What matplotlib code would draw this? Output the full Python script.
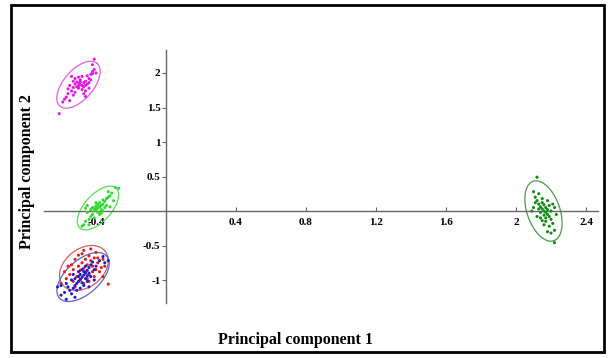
import numpy as np
import matplotlib
matplotlib.use("Agg")
import matplotlib.pyplot as plt
from matplotlib.patches import Rectangle

# ---------------- data ----------------
magenta_x = [-0.49, -0.50, -0.48, -0.51, -0.47, -0.52, -0.46, -0.50, -0.49, -0.53, -0.45, -0.48,
             -0.44, -0.54, -0.51, -0.47, -0.43, -0.42, -0.45, -0.56, -0.57, -0.55, -0.52, -0.46,
             -0.44, -0.41, -0.40, -0.53, -0.55, -0.50, -0.48, -0.58, -0.47, -0.43, -0.52, -0.49,
             -0.50, -0.46, -0.61, -0.41, -0.54, -0.44, -0.59, -0.56, -0.42, -0.42, -0.46, -0.53]
magenta_y = [1.83, 1.85, 1.82, 1.80, 1.86, 1.84, 1.88, 1.78, 1.90, 1.79, 1.84, 1.76,
             1.92, 1.74, 1.87, 1.80, 1.98, 2.02, 1.96, 1.70, 1.65, 1.60, 1.72, 1.74,
             1.86, 2.05, 2.00, 1.88, 1.82, 1.94, 1.95, 1.62, 1.70, 1.90, 1.92, 1.87,
             1.81, 1.82, 1.41, 2.20, 1.95, 1.78, 1.58, 1.77, 2.12, 1.99, 1.66, 1.68]

lgreen_x = [-0.39, -0.38, -0.40, -0.37, -0.41, -0.36, -0.39, -0.35, -0.42, -0.38, -0.40, -0.37,
            -0.34, -0.33, -0.43, -0.44, -0.46, -0.45, -0.41, -0.36, -0.35, -0.32, -0.31, -0.29,
            -0.27, -0.30, -0.42, -0.47, -0.48, -0.44, -0.38, -0.40, -0.36, -0.43, -0.39, -0.37,
            -0.34, -0.41, -0.46, -0.33, -0.45, -0.32]
lgreen_y = [0.04, 0.06, 0.02, 0.08, 0.00, 0.10, -0.02, 0.14, -0.05, 0.12, 0.07, 0.02,
            0.18, 0.20, -0.08, -0.12, -0.15, -0.02, -0.10, 0.00, 0.05, 0.22, 0.26, 0.34,
            0.33, 0.15, 0.05, -0.20, -0.22, -0.20, -0.05, 0.12, 0.16, 0.02, 0.09, -0.03,
            0.08, 0.04, 0.04, 0.28, 0.08, 0.06]

red_x = [-0.47, -0.45, -0.49, -0.43, -0.41, -0.40, -0.43, -0.47, -0.50, -0.52, -0.39, -0.37,
         -0.35, -0.33, -0.36, -0.42, -0.44, -0.46, -0.48, -0.53, -0.55, -0.57, -0.60, -0.58,
         -0.54, -0.51, -0.49, -0.45, -0.41, -0.38, -0.44, -0.42, -0.50, -0.46, -0.53, -0.56,
         -0.39, -0.36, -0.48, -0.52, -0.47, -0.40, -0.44]
red_y = [-0.83, -0.78, -0.86, -0.72, -0.68, -0.60, -0.55, -0.57, -0.64, -0.70, -0.75, -0.82,
         -0.80, -1.06, -0.95, -0.88, -0.92, -0.70, -0.75, -0.85, -0.92, -0.98, -1.05, -0.88,
         -0.78, -0.95, -1.00, -0.98, -0.95, -0.88, -0.65, -0.80, -0.80, -0.88, -1.02, -0.80,
         -0.68, -0.70, -0.62, -1.10, -1.05, -0.85, -1.02]

blue_x = [-0.48, -0.47, -0.49, -0.46, -0.50, -0.45, -0.51, -0.44, -0.52, -0.47, -0.49, -0.46,
          -0.50, -0.43, -0.42, -0.44, -0.48, -0.53, -0.55, -0.56, -0.58, -0.60, -0.57, -0.54,
          -0.52, -0.54, -0.57, -0.60, -0.62, -0.45, -0.41, -0.40, -0.38, -0.36, -0.35, -0.33,
          -0.43, -0.47, -0.51, -0.49, -0.46, -0.48, -0.53, -0.41, -0.44, -0.50, -0.45, -0.52]
blue_y = [-0.96, -0.93, -0.99, -0.90, -1.02, -0.86, -1.05, -0.82, -1.08, -0.88, -0.92, -0.98,
          -0.95, -0.78, -0.74, -0.90, -1.04, -1.12, -1.15, -1.10, -1.18, -1.22, -1.28, -1.20,
          -0.98, -1.00, -1.05, -1.08, -1.10, -1.02, -0.85, -0.80, -0.72, -0.66, -0.75, -0.72,
          -0.95, -1.08, -1.15, -1.12, -0.80, -0.85, -0.92, -1.00, -1.10, -0.88, -0.94, -1.25]

dgreen_x = [2.16, 2.15, 2.17, 2.14, 2.18, 2.13, 2.19, 2.15, 2.17, 2.16, 2.14, 2.18,
            2.20, 2.12, 2.11, 2.10, 2.13, 2.15, 2.20, 2.21, 2.19, 2.17, 2.22, 2.18,
            2.20, 2.14, 2.12, 2.10, 2.09, 2.22, 2.23, 2.13, 2.16, 2.19, 2.17, 2.15,
            2.12, 2.22, 2.21, 2.11, 2.18, 2.16]
dgreen_y = [0.00, 0.03, -0.02, 0.06, -0.05, 0.10, -0.08, 0.12, 0.05, -0.06, -0.02, 0.02,
            0.00, 0.15, 0.20, 0.28, 0.25, 0.18, -0.12, -0.18, -0.22, -0.15, -0.28, -0.30,
            -0.32, -0.10, -0.08, 0.05, 0.00, 0.05, -0.05, 0.03, 0.09, 0.08, -0.10, -0.14,
            0.49, -0.46, 0.10, 0.12, 0.15, -0.20]

# ellipses: centre, major half-axis vector, minor half-axis vector (data units)
ell_magenta = [(-0.50, 1.83), (0.106, 0.31), (0.064, -0.140)]
ell_lgreen = [(-0.389, 0.043), (0.103, 0.29), (0.057, -0.130)]
ell_red = [(-0.469, -0.826), (0.118, 0.253), (0.074, -0.205)]
ell_blue = [(-0.474, -0.957), (0.135, 0.305), (0.064, -0.182)]
ell_dgreen = [(2.157, 0.0), (0.06, -0.43), (0.088, 0.082)]

x_ticks = [-0.4, 0.4, 0.8, 1.2, 1.6, 2.0, 2.4]
x_ticklabels = ["-0.4", "0.4", "0.8", "1.2", "1.6", "2", "2.4"]
y_ticks = [-1.0, -0.5, 0.5, 1.0, 1.5, 2.0]
y_ticklabels = ["-1", "-0.5", "0.5", "1", "1.5", "2"]

groups = [
    (magenta_x, magenta_y, ell_magenta, "#e21be2", "#e060e0"),
    (lgreen_x, lgreen_y, ell_lgreen, "#33d933", "#55dd55"),
    (red_x, red_y, ell_red, "#dd1f1f", "#d06060"),
    (blue_x, blue_y, ell_blue, "#1f1fc8", "#6060c8"),
    (dgreen_x, dgreen_y, ell_dgreen, "#148a14", "#4a9a4a"),
]

# ---------------- figure ----------------
W, H = 611, 358
fig = plt.figure(figsize=(W / 100, H / 100), dpi=100)
fig.patch.set_facecolor("white")
fig.patches.append(Rectangle((11 / W, 1 - 352 / H), 593 / W, 347 / H,
                             transform=fig.transFigure, fill=False,
                             edgecolor="black", linewidth=2.0))

ax = fig.add_axes([34.75 / W, (H - 321.4) / H, (603.5 - 34.75) / W, (321.4 - 31.6) / H])
ax.set_xlim(-0.75, 2.5)
ax.set_ylim(-1.6, 2.6)
ax.patch.set_alpha(0)

for s in ["top", "right"]:
    ax.spines[s].set_visible(False)
ax.spines["left"].set_position(("data", 0))
ax.spines["bottom"].set_position(("data", 0))
ax.spines["left"].set_bounds(-1.33, 2.33)
ax.spines["bottom"].set_bounds(-0.70, 2.47)
for s in ["left", "bottom"]:
    ax.spines[s].set_color("#666666")
    ax.spines[s].set_linewidth(1.0)

serif = ["Liberation Serif", "DejaVu Serif"]
ax.set_xticks(x_ticks)
ax.set_xticklabels(x_ticklabels, fontfamily=serif, fontweight="bold", fontsize=8)
ax.set_yticks(y_ticks)
ax.set_yticklabels(y_ticklabels, fontfamily=serif, fontweight="bold", fontsize=8)
ax.tick_params(axis="x", direction="in", length=3, width=0.8, color="#666666", pad=5)
ax.tick_params(axis="y", direction="out", length=3, width=0.8, color="#666666", pad=1)

t = np.linspace(0, 2 * np.pi, 200)
for xs, ys, (c, a, b), col, ecol in groups:
    ex = c[0] + np.cos(t) * a[0] + np.sin(t) * b[0]
    ey = c[1] + np.cos(t) * a[1] + np.sin(t) * b[1]
    ax.plot(ex, ey, color=ecol, linewidth=0.9, zorder=2)
    ax.scatter(xs, ys, s=5, color=col, edgecolors="none", zorder=3)

fig.text(296 / W, 1 - 340 / H, "Principal component 1", ha="center", va="center",
         fontfamily=serif, fontweight="bold", fontsize=11.5)
fig.text(27 / W, 1 - 172 / H, "Principal component 2", ha="center", va="center",
         rotation=90, fontfamily=serif, fontweight="bold", fontsize=11.5)

fig.savefig("out.png", dpi=100)
